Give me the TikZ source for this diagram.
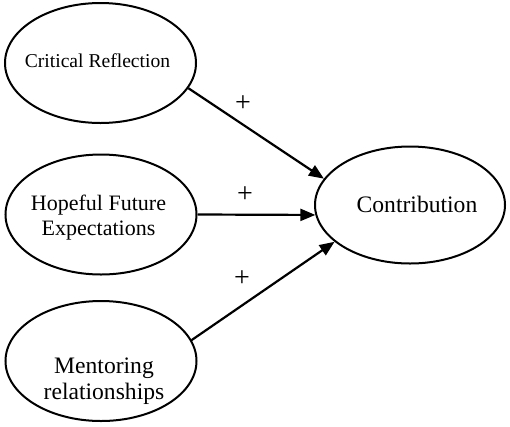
\documentclass[tikz,border=0pt]{standalone}
\usepackage{fontspec}
\setmainfont{Liberation Serif}
\usetikzlibrary{shapes.geometric,arrows.meta}
\tikzset{
  ell/.style={draw, ellipse, line width=2pt, inner sep=0pt, minimum width=191pt, minimum height=120pt},
  lbl/.style={align=center, inner sep=0pt},
  conn/.style={line width=2.2pt, -{Triangle[length=15pt,width=12pt]}},
  plus/.style={font=\fontsize{28}{28}\selectfont, inner sep=0pt}
}
\begin{document}
\begin{tikzpicture}[x=1pt,y=-1pt]
\useasboundingbox (0,0) rectangle (510,426);
\node[ell] (cr) at (100.5,63) {};
\node[ell] (hf) at (101,214.5) {};
\node[ell] (mr) at (101,361) {};
\node[ell, minimum width=190pt, minimum height=117pt] (con) at (410,205) {};
\node[lbl, font=\fontsize{19.6}{22}\selectfont] (crt) at (97.5,61) {Critical Reflection};
\node[lbl, font=\fontsize{22}{25}\selectfont] (hft) at (98.5,218) {Hopeful Future\\Expectations};
\node[lbl, font=\fontsize{23.6}{26}\selectfont] (mrt) at (104,381) {Mentoring\\relationships};
\node[lbl, font=\fontsize{23.6}{26}\selectfont] (cont) at (417,204) {Contribution};
\draw[conn] (cr.-16) -- (con.163);
\draw[conn] (hf.0) -- (con.186);
\draw[conn] (mr.13) -- (con.206);
\node[plus] (p1) at (243,104) {+};
\node[plus] (p2) at (245,195) {+};
\node[plus] (p3) at (242,279) {+};
\end{tikzpicture}
\end{document}
